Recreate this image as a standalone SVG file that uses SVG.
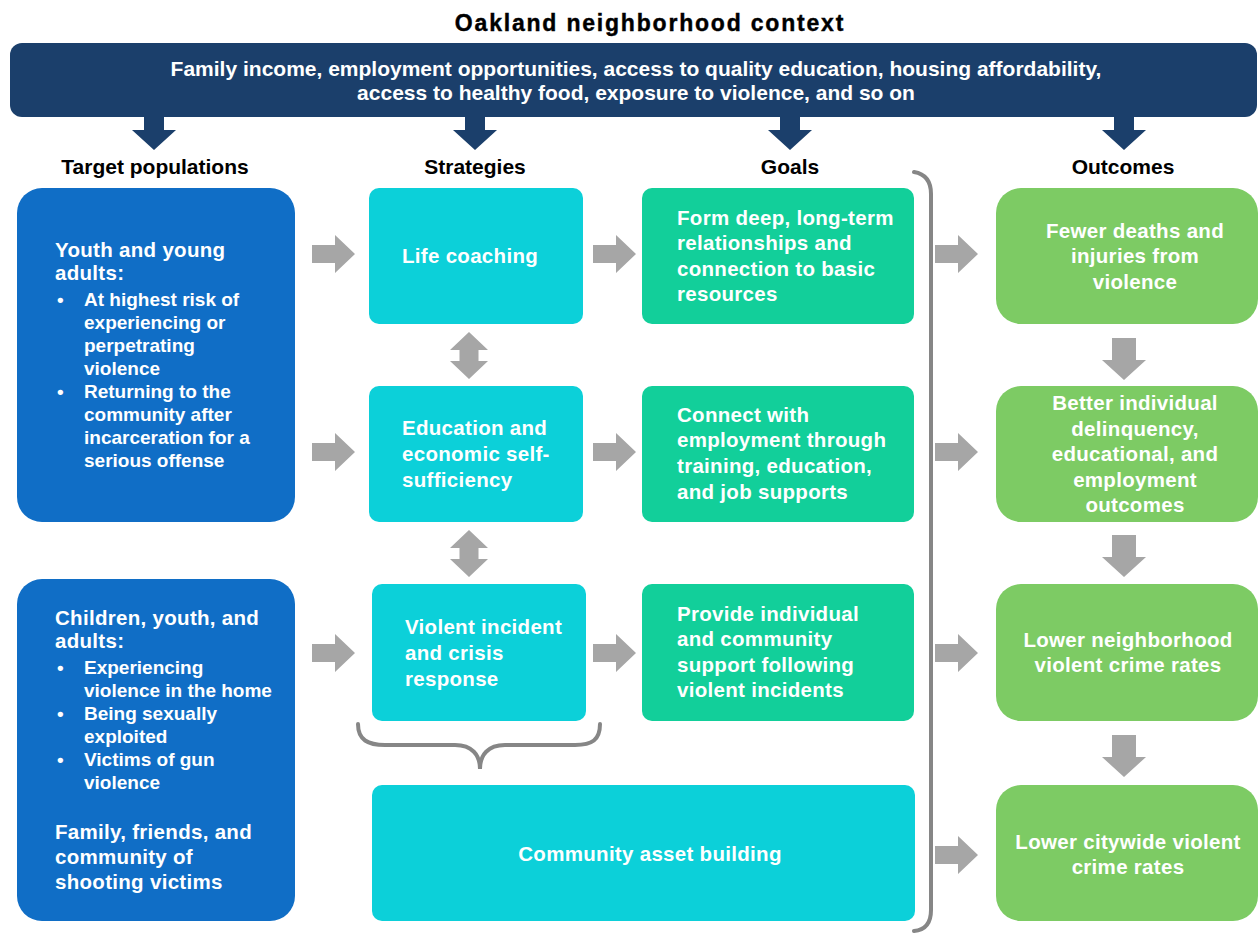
<svg xmlns="http://www.w3.org/2000/svg" width="1259" height="933" viewBox="0 0 1259 933">
<defs>
<style>
text{font-family:"Liberation Sans",Arial,sans-serif;font-weight:bold}
.t{fill:#000;font-size:21px}
.w{fill:#fff;font-size:19px}
.ban{fill:#fff;font-size:21px}
.wb{fill:#fff;font-size:20.5px;letter-spacing:0.3px}
.c{text-anchor:middle}
.pop{fill:#106ec6}
.str{fill:#0cd0d9}
.goal{fill:#12cf9a}
.out{fill:#7dcb64}
.ga{fill:#a6a6a6}
.na{fill:#1b3f6b}
.br{fill:none;stroke:#868686;stroke-width:4;stroke-linecap:round}
</style>
<path id="ra" d="M0,-9 H23 V-19 L43,0 L23,19 V9 H0 Z"/>
<path id="da" d="M-12,0 H12 V22 H22 L0,42 L-22,22 H-12 Z"/>
<path id="nda" d="M-10,0 H10 V13 H22 L0,33 L-22,13 H-10 Z"/>
<path id="dda" d="M0,0 L19,18 H9.5 V29 H19 L0,47 L-19,29 H-9.5 V18 H-19 Z"/>
</defs>
<rect width="1259" height="933" fill="#fff"/>

<g id="context">
<text x="650" y="31" class="t c" style="font-size:23px;letter-spacing:1.8px;stroke:#000;stroke-width:0.4px">Oakland neighborhood context</text>
<rect x="10" y="43" width="1247" height="74" rx="12" class="na"/>
<text x="636" y="76" class="ban c">Family income, employment opportunities, access to quality education, housing affordability,</text>
<text x="636" y="100" class="ban c">access to healthy food, exposure to violence, and so on</text>
</g>

<g id="headers">
<text x="155" y="174" class="t c">Target populations</text>
<text x="475" y="174" class="t c">Strategies</text>
<text x="790" y="174" class="t c">Goals</text>
<text x="1123" y="174" class="t c">Outcomes</text>
</g>

<g id="pop1">
<rect x="17" y="188" width="278" height="334" rx="25" class="pop"/>
<text class="wb"><tspan x="55" y="257">Youth and young</tspan><tspan x="55" y="280">adults:</tspan></text>
<text class="w">
<tspan x="57" y="306">•</tspan><tspan x="84" y="306">At highest risk of</tspan>
<tspan x="84" y="329">experiencing or</tspan>
<tspan x="84" y="352">perpetrating</tspan>
<tspan x="84" y="375">violence</tspan>
<tspan x="57" y="398">•</tspan><tspan x="84" y="398">Returning to the</tspan>
<tspan x="84" y="421">community after</tspan>
<tspan x="84" y="444">incarceration for a</tspan>
<tspan x="84" y="467">serious offense</tspan>
</text>
</g>

<g id="pop2">
<rect x="17" y="579" width="278" height="342" rx="25" class="pop"/>
<text class="wb"><tspan x="55" y="625">Children, youth, and</tspan><tspan x="55" y="648">adults:</tspan></text>
<text class="w">
<tspan x="57" y="674">•</tspan><tspan x="84" y="674">Experiencing</tspan>
<tspan x="84" y="697">violence in the home</tspan>
<tspan x="57" y="720">•</tspan><tspan x="84" y="720">Being sexually</tspan>
<tspan x="84" y="743">exploited</tspan>
<tspan x="57" y="766">•</tspan><tspan x="84" y="766">Victims of gun</tspan>
<tspan x="84" y="789">violence</tspan>
</text>
<text class="wb"><tspan x="55" y="839">Family, friends, and</tspan><tspan x="55" y="864">community of</tspan><tspan x="55" y="889">shooting victims</tspan></text>
</g>

<g id="str1">
<rect x="369" y="188" width="214" height="136" rx="10" class="str"/>
<text x="402" y="263" class="wb">Life coaching</text>
</g>
<g id="str2">
<rect x="369" y="386" width="214" height="136" rx="10" class="str"/>
<text class="wb"><tspan x="402" y="435">Education and</tspan><tspan x="402" y="461">economic self-</tspan><tspan x="402" y="487">sufficiency</tspan></text>
</g>
<g id="str3">
<rect x="372" y="584" width="214" height="137" rx="10" class="str"/>
<text class="wb"><tspan x="405" y="634">Violent incident</tspan><tspan x="405" y="660">and crisis</tspan><tspan x="405" y="686">response</tspan></text>
</g>
<g id="str4">
<rect x="372" y="785" width="543" height="136" rx="10" class="str"/>
<text x="650" y="861" class="wb c">Community asset building</text>
</g>

<g id="goal1">
<rect x="642" y="188" width="272" height="136" rx="10" class="goal"/>
<text class="wb"><tspan x="677" y="225">Form deep, long-term</tspan><tspan x="677" y="250">relationships and</tspan><tspan x="677" y="276">connection to basic</tspan><tspan x="677" y="301">resources</tspan></text>
</g>
<g id="goal2">
<rect x="642" y="386" width="272" height="136" rx="10" class="goal"/>
<text class="wb"><tspan x="677" y="422">Connect with</tspan><tspan x="677" y="447">employment through</tspan><tspan x="677" y="473">training, education,</tspan><tspan x="677" y="499">and job supports</tspan></text>
</g>
<g id="goal3">
<rect x="642" y="584" width="272" height="137" rx="10" class="goal"/>
<text class="wb"><tspan x="677" y="621">Provide individual</tspan><tspan x="677" y="646">and community</tspan><tspan x="677" y="672">support following</tspan><tspan x="677" y="697">violent incidents</tspan></text>
</g>

<g id="out1">
<rect x="996" y="188" width="262" height="136" rx="25" class="out"/>
<text class="wb c"><tspan x="1135" y="238">Fewer deaths and</tspan><tspan x="1135" y="263">injuries from</tspan><tspan x="1135" y="289">violence</tspan></text>
</g>
<g id="out2">
<rect x="996" y="386" width="262" height="136" rx="25" class="out"/>
<text class="wb c"><tspan x="1135" y="410">Better individual</tspan><tspan x="1135" y="436">delinquency,</tspan><tspan x="1135" y="461">educational, and</tspan><tspan x="1135" y="487">employment</tspan><tspan x="1135" y="512">outcomes</tspan></text>
</g>
<g id="out3">
<rect x="996" y="584" width="262" height="137" rx="25" class="out"/>
<text class="wb c"><tspan x="1128" y="647">Lower neighborhood</tspan><tspan x="1128" y="672">violent crime rates</tspan></text>
</g>
<g id="out4">
<rect x="996" y="785" width="262" height="136" rx="25" class="out"/>
<text class="wb c"><tspan x="1128" y="849">Lower citywide violent</tspan><tspan x="1128" y="874">crime rates</tspan></text>
</g>

<g id="connectors">
<use href="#nda" x="154" y="117" class="na"/>
<use href="#nda" x="475" y="117" class="na"/>
<use href="#nda" x="790" y="117" class="na"/>
<use href="#nda" x="1124" y="117" class="na"/>

<use href="#ra" x="312" y="254" class="ga"/>
<use href="#ra" x="312" y="452" class="ga"/>
<use href="#ra" x="312" y="653" class="ga"/>
<use href="#ra" x="593" y="254" class="ga"/>
<use href="#ra" x="593" y="452" class="ga"/>
<use href="#ra" x="593" y="653" class="ga"/>
<use href="#ra" x="935" y="254" class="ga"/>
<use href="#ra" x="935" y="452" class="ga"/>
<use href="#ra" x="935" y="653" class="ga"/>
<use href="#ra" x="935" y="855" class="ga"/>

<use href="#dda" x="469" y="332" class="ga"/>
<use href="#dda" x="469" y="530" class="ga"/>

<use href="#da" x="1124" y="338" class="ga"/>
<use href="#da" x="1124" y="535" class="ga"/>
<use href="#da" x="1124" y="735" class="ga"/>

<path class="br" d="M358,724 C358,740 368,745 385,745 H455 C472,745 480,755 480,769 C480,755 488,745 505,745 H575 C592,745 600,740 600,724"/>
<path class="br" d="M914,172 C926,174 931,182 931,194 V910 C931,922 926,930 914,931"/>
</g>
</svg>
